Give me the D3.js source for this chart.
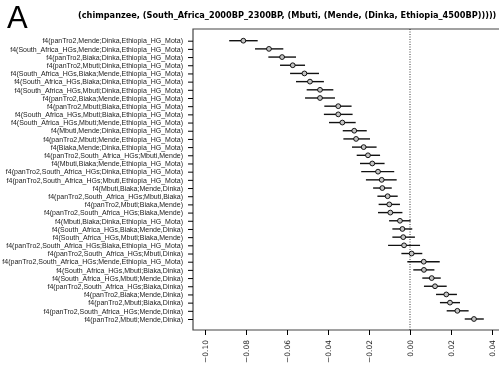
<!DOCTYPE html>
<html>
<head>
<meta charset="utf-8">
<script src="https://cdn.jsdelivr.net/npm/d3@7"></script>
<style>
  body { margin: 0; background: #fff; }
  svg { display: block; will-change: transform; }
  .lab { font-family: "Liberation Sans", Arial, sans-serif; font-size: 7px; fill: #222; }
  .xt { font-family: "DejaVu Sans", sans-serif; font-size: 7.5px; fill: #222; }
</style>
</head>
<body>
<svg width="499" height="371"></svg>
<script>
// f4 statistics, top to bottom
var labels = [
    "f4(panTro2,Mende;Dinka,Ethiopia_HG_Mota)",
    "f4(South_Africa_HGs,Mende;Dinka,Ethiopia_HG_Mota)",
    "f4(panTro2,Biaka;Dinka,Ethiopia_HG_Mota)",
    "f4(panTro2,Mbuti;Dinka,Ethiopia_HG_Mota)",
    "f4(South_Africa_HGs,Biaka;Mende,Ethiopia_HG_Mota)",
    "f4(South_Africa_HGs,Biaka;Dinka,Ethiopia_HG_Mota)",
    "f4(South_Africa_HGs,Mbuti;Dinka,Ethiopia_HG_Mota)",
    "f4(panTro2,Biaka;Mende,Ethiopia_HG_Mota)",
    "f4(panTro2,Mbuti;Biaka,Ethiopia_HG_Mota)",
    "f4(South_Africa_HGs,Mbuti;Biaka,Ethiopia_HG_Mota)",
    "f4(South_Africa_HGs,Mbuti;Mende,Ethiopia_HG_Mota)",
    "f4(Mbuti,Mende;Dinka,Ethiopia_HG_Mota)",
    "f4(panTro2,Mbuti;Mende,Ethiopia_HG_Mota)",
    "f4(Biaka,Mende;Dinka,Ethiopia_HG_Mota)",
    "f4(panTro2,South_Africa_HGs;Mbuti,Mende)",
    "f4(Mbuti,Biaka;Mende,Ethiopia_HG_Mota)",
    "f4(panTro2,South_Africa_HGs;Dinka,Ethiopia_HG_Mota)",
    "f4(panTro2,South_Africa_HGs;Mbuti,Ethiopia_HG_Mota)",
    "f4(Mbuti,Biaka;Mende,Dinka)",
    "f4(panTro2,South_Africa_HGs;Mbuti,Biaka)",
    "f4(panTro2,Mbuti;Biaka,Mende)",
    "f4(panTro2,South_Africa_HGs;Biaka,Mende)",
    "f4(Mbuti,Biaka;Dinka,Ethiopia_HG_Mota)",
    "f4(South_Africa_HGs,Biaka;Mende,Dinka)",
    "f4(South_Africa_HGs,Mbuti;Biaka,Mende)",
    "f4(panTro2,South_Africa_HGs;Biaka,Ethiopia_HG_Mota)",
    "f4(panTro2,South_Africa_HGs;Mbuti,Dinka)",
    "f4(panTro2,South_Africa_HGs;Mende,Ethiopia_HG_Mota)",
    "f4(South_Africa_HGs,Mbuti;Biaka,Dinka)",
    "f4(South_Africa_HGs,Mbuti;Mende,Dinka)",
    "f4(panTro2,South_Africa_HGs;Biaka,Dinka)",
    "f4(panTro2,Biaka;Mende,Dinka)",
    "f4(panTro2,Mbuti;Biaka,Dinka)",
    "f4(panTro2,South_Africa_HGs;Mende,Dinka)",
    "f4(panTro2,Mbuti;Mende,Dinka)"
];
var est = [-0.0813, -0.0688, -0.0624, -0.0572, -0.0515, -0.0488, -0.0439, -0.0439,
    -0.0350, -0.0350, -0.0330, -0.0272, -0.0263, -0.0226, -0.0205, -0.0184,
    -0.0156, -0.0138, -0.0135, -0.0109, -0.0101, -0.0096, -0.0049, -0.0037,
    -0.0033, -0.0029, 0.0008, 0.0067, 0.0068, 0.0106, 0.0122, 0.0177,
    0.0195, 0.0231, 0.0312];
var ciLow = [-0.0882, -0.0756, -0.0691, -0.0634, -0.0585, -0.0556, -0.0504, -0.0512,
    -0.0418, -0.0420, -0.0395, -0.0328, -0.0325, -0.0283, -0.0260, -0.0244,
    -0.0238, -0.0215, -0.0180, -0.0159, -0.0153, -0.0156, -0.0102, -0.0086,
    -0.0086, -0.0107, -0.0042, -0.0013, 0.0016, 0.0060, 0.0068, 0.0127,
    0.0146, 0.0179, 0.0267];
var ciHigh = [-0.0743, -0.0618, -0.0556, -0.0512, -0.0444, -0.0420, -0.0374, -0.0366,
    -0.0285, -0.0280, -0.0265, -0.0211, -0.0195, -0.0163, -0.0146, -0.0124,
    -0.0077, -0.0065, -0.0089, -0.0060, -0.0049, -0.0037, 0.0003, 0.0011,
    0.0024, 0.0049, 0.0060, 0.0145, 0.0119, 0.0150, 0.0179, 0.0229,
    0.0244, 0.0286, 0.0360];
var xTicks = [-0.10, -0.08, -0.06, -0.04, -0.02, 0.00, 0.02, 0.04];
var title = "(chimpanzee, (South_Africa_2000BP_2300BP, (Mbuti, (Mende, (Dinka, Ethiopia_4500BP)))))";

var svg = d3.select("svg"),
    box = {left: 193, right: 520, top: 29, bottom: 330};

var x = d3.scaleLinear().domain([-0.10, 0.04]).range([205, 492]);
var y = d3.scalePoint().domain(labels).range([40.7, 319]);

var rows = labels.map(function(l, i) {
    return {label: l, est: est[i], lo: ciLow[i], hi: ciHigh[i]};
});

// panel letter + title
svg.append("text")
    .attr("x", 7).attr("y", 28)
    .style("font-family", "'Liberation Sans', Arial, sans-serif")
    .style("font-size", "31px")
    .text("A");

svg.append("text")
    .attr("x", 78).attr("y", 18)
    .style("font-family", "'DejaVu Sans', sans-serif")
    .style("font-size", "8.2px")
    .style("font-weight", "bold")
    .text(title);

// frame (right side runs off the page)
svg.append("path")
    .attr("d", "M" + box.right + "," + box.top + "H" + box.left + "V" + box.bottom + "H" + box.right)
    .attr("fill", "none")
    .attr("stroke", "#444")
    .attr("stroke-width", 1.2);

// zero line
svg.append("line")
    .attr("x1", x(0)).attr("x2", x(0))
    .attr("y1", box.top).attr("y2", box.bottom)
    .attr("stroke", "#000")
    .attr("stroke-width", 0.8)
    .attr("stroke-dasharray", "1,1.5");

var yAxis = svg.append("g")
    .attr("transform", "translate(" + box.left + ",0)")
    .call(d3.axisLeft(y).tickSize(5).tickPadding(5));
yAxis.select(".domain").remove();
yAxis.selectAll("text").attr("class", "lab").attr("fill", null);
yAxis.selectAll("line").attr("stroke", "#000");

var xAxis = svg.append("g")
    .attr("transform", "translate(0," + box.bottom + ")")
    .call(d3.axisBottom(x).tickValues(xTicks).tickSize(5).tickFormat(d3.format(".2f")));
xAxis.select(".domain").remove();
xAxis.selectAll("line").attr("stroke", "#000");
xAxis.selectAll("text")
    .attr("class", "xt").attr("fill", null)
    .attr("transform", "rotate(-90)")
    .attr("x", -10).attr("y", 0).attr("dy", "0.35em")
    .style("text-anchor", "end");

// error bars and points
var g = svg.append("g");
g.selectAll(".ci")
    .data(rows)
    .enter().append("line")
    .attr("class", "ci")
    .attr("x1", function(d) { return x(d.lo); })
    .attr("x2", function(d) { return x(d.hi); })
    .attr("y1", function(d) { return y(d.label); })
    .attr("y2", function(d) { return y(d.label); })
    .attr("stroke", "#111")
    .attr("stroke-width", 1.4);

g.selectAll(".pt")
    .data(rows)
    .enter().append("circle")
    .attr("class", "pt")
    .attr("cx", function(d) { return x(d.est); })
    .attr("cy", function(d) { return y(d.label); })
    .attr("r", 2.4)
    .attr("fill", "#c4c4c4")
    .attr("stroke", "#000")
    .attr("stroke-width", 0.9);
</script>
</body>
</html>
